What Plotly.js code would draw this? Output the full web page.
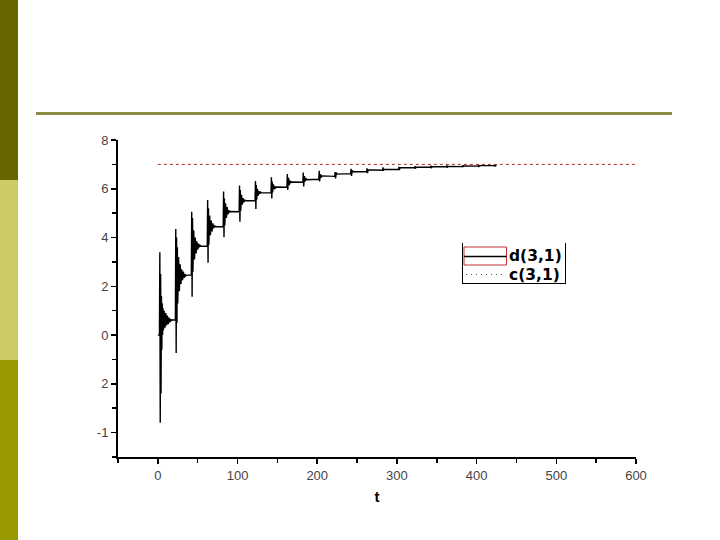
<!DOCTYPE html>
<html>
<head>
<meta charset="utf-8">
<script src="https://cdn.plot.ly/plotly-3.0.1.min.js"></script>
<style>html,body{margin:0;padding:0;background:#fff;} #chart{width:720px;height:540px;}</style>
</head>
<body>
<div id="chart"></div>
<script>
// ---- data ----
const dT = [0,2,2.5,3,3.5,4,4.5,5,5.5,6,6.5,7,8,9,10,11,12,13,14,15,16,17,18,19,22,
  22.5,23,23.5,24,24.5,25,26,27,28,29,30,31,32,33,34,35,36,42,
  42.5,43,43.5,44,45,46,47,48,49,50,51,52,53,54,62,
  62.5,63,63.5,64,65,66,67,68,69,70,71,72,82,
  82.5,83,83.5,84,85,86,87,88,89,90,91,102,
  102.5,103,103.5,104,105,106,107,108,109,110,122,
  122.5,123,123.5,124,125,126,127,128,129,130,142,
  142.5,143,143.5,144,145,146,147,148,149,162,
  162.5,163,164,165,166,167,168,182,
  182.5,183,184,185,186,187,202,
  202.5,203,204,205,206,222,
  222.5,223,224,225,242,
  242.5,243,244,245,262,
  262.5,263,264,282,
  282.5,283,284,302,
  302.5,303,304,322,
  322.5,323,324,342,
  342.5,343,344,362,
  362.5,363,364,382,
  382.5,383,384,402,
  402.5,403,404,422,
  422.5,423,424,425];
const dV = [0,0,3.4,-3.6,2.5,-2.4,1.6,-0.6,1.3,0.0,1.1,0.2,1.0,0.3,0.9,0.4,0.8,0.45,0.72,0.52,0.66,0.58,0.63,0.62,0.62,
  4.35,-0.73,4.0,0.5,3.6,1.3,3.2,1.8,2.9,2.1,2.7,2.25,2.6,2.35,2.5,2.43,2.46,2.46,
  5.06,1.57,4.8,2.6,4.3,3.1,4.0,3.35,3.85,3.5,3.75,3.6,3.68,3.64,3.65,
  5.54,2.97,5.2,3.7,4.9,4.1,4.7,4.25,4.58,4.38,4.5,4.44,4.45,
  5.89,4.01,5.6,4.5,5.4,4.8,5.25,4.95,5.12,5.03,5.07,5.06,
  6.13,4.65,5.95,5.1,5.75,5.35,5.62,5.45,5.55,5.51,5.52,
  6.32,5.17,6.15,5.55,6.0,5.72,5.9,5.8,5.86,5.83,5.84,
  6.47,5.6,6.3,5.85,6.18,5.98,6.1,6.04,6.07,6.06,
  6.6,5.95,6.45,6.15,6.33,6.24,6.28,6.27,
  6.67,6.09,6.52,6.3,6.43,6.37,6.39,
  6.74,6.3,6.6,6.46,6.53,6.51,
  6.69,6.42,6.66,6.6,6.62,
  6.82,6.53,6.75,6.7,6.71,
  6.84,6.64,6.78,6.76,
  6.88,6.74,6.8,6.79,
  6.9,6.77,6.87,6.86,
  6.93,6.82,6.88,6.88,
  6.95,6.85,6.9,6.9,
  6.96,6.87,6.92,6.91,
  6.97,6.9,6.94,6.93,
  6.98,6.92,6.95,6.95,
  6.99,6.93,6.96,6.96];
const cT = [0, 600];
const cV = [7, 7];
const yTickVals = [8, 6, 4, 2, 0, -2, -4];
const yTickText = ['8', '6', '4', '2', '0', '2', '-1'];
const yMinorVals = [7, 5, 3, 1, -1, -3, -5];
const seriesNames = ['d(3,1)', 'c(3,1)'];

// ---- layout helpers (pixel -> paper) ----
const W = 720, H = 540, L = 118, R = 84, T = 140, B = 83;
const pw = W - L - R, ph = H - T - B;
const px = x => (x - L) / pw;
const py = y => (H - B - y) / ph;

const dColor = '#000000', cColor = '#b02a2a';

const traces = [
  {x: dT, y: dV, type: 'scatter', mode: 'lines', name: seriesNames[0],
   line: {color: dColor, width: 1.4}},
  {x: cT, y: cV, type: 'scatter', mode: 'lines', name: seriesNames[1],
   line: {color: cColor, width: 1, dash: '3px,3px'}}
];

const P = (x0, y0, x1, y1) => ({xref: 'paper', yref: 'paper', x0: px(x0), y0: py(y0), x1: px(x1), y1: py(y1)});

const shapes = [
  // slide decoration
  Object.assign({type: 'rect', fillcolor: '#666600', line: {width: 0}, layer: 'below'}, P(0, 0, 18, 180)),
  Object.assign({type: 'rect', fillcolor: '#cccc66', line: {width: 0}, layer: 'below'}, P(0, 180, 18, 360)),
  Object.assign({type: 'rect', fillcolor: '#999900', line: {width: 0}, layer: 'below'}, P(0, 360, 18, 540)),
  Object.assign({type: 'line', line: {color: '#8c8c46', width: 3}}, P(36, 113.5, 672, 113.5)),
  // legend box (left, bottom, right sides)
  Object.assign({type: 'line', line: {color: '#000', width: 1}}, P(462.5, 243, 462.5, 283.5)),
  Object.assign({type: 'line', line: {color: '#000', width: 1}}, P(462, 283.5, 566, 283.5)),
  Object.assign({type: 'line', line: {color: '#000', width: 1}}, P(565.5, 243, 565.5, 283.5)),
  // legend symbols
  Object.assign({type: 'rect', line: {color: '#c03030', width: 1}}, P(464, 247, 506.5, 265)),
  Object.assign({type: 'line', line: {color: dColor, width: 1.4}}, P(464, 256.5, 506.5, 256.5)),
  Object.assign({type: 'line', line: {color: '#555', width: 1, dash: '1px,4px'}}, P(466, 274.5, 502, 274.5))
];

const legendFont = {family: 'DejaVu Sans, Verdana, sans-serif', size: 15.5, weight: 'bold', color: '#000'};
const annotations = [
  {xref: 'paper', yref: 'paper', x: px(507), y: py(256), xanchor: 'left', yanchor: 'middle',
   text: seriesNames[0], showarrow: false, font: legendFont},
  {xref: 'paper', yref: 'paper', x: px(507), y: py(274.5), xanchor: 'left', yanchor: 'middle',
   text: seriesNames[1], showarrow: false, font: legendFont}
];

const layout = {
  width: W, height: H, autosize: false,
  margin: {l: L, r: R, t: T, b: B, pad: 0},
  paper_bgcolor: '#ffffff', plot_bgcolor: '#ffffff',
  font: {family: 'Liberation Sans, Arial, sans-serif', color: '#000'},
  showlegend: false,
  xaxis: {range: [-50, 600], tick0: 0, dtick: 100, showgrid: false, zeroline: false,
    showline: true, linecolor: '#000', linewidth: 2, ticks: 'outside', ticklen: 5, tickwidth: 1.5, tickcolor: '#000',
    tickfont: {size: 13, color: '#444'},
    minor: {tick0: 0, dtick: 50, ticks: 'outside', ticklen: 4, tickwidth: 1.5, tickcolor: '#000', showgrid: false},
    title: {text: 't', font: {size: 15, weight: 'bold', color: '#000'}, standoff: 10}},
  yaxis: {range: [-5, 8], tickmode: 'array', tickvals: yTickVals, ticktext: yTickText,
    showgrid: false, zeroline: false,
    showline: true, linecolor: '#000', linewidth: 2, ticks: 'outside', ticklen: 5, tickwidth: 1.5, tickcolor: '#000',
    tickfont: {size: 13, color: '#444'},
    minor: {tickmode: 'array', tickvals: yMinorVals, ticks: 'outside', ticklen: 4, tickwidth: 1.5, tickcolor: '#000', showgrid: false}},
  shapes: shapes,
  annotations: annotations
};

Plotly.newPlot('chart', traces, layout, {staticPlot: true, displayModeBar: false});
</script>
</body>
</html>
